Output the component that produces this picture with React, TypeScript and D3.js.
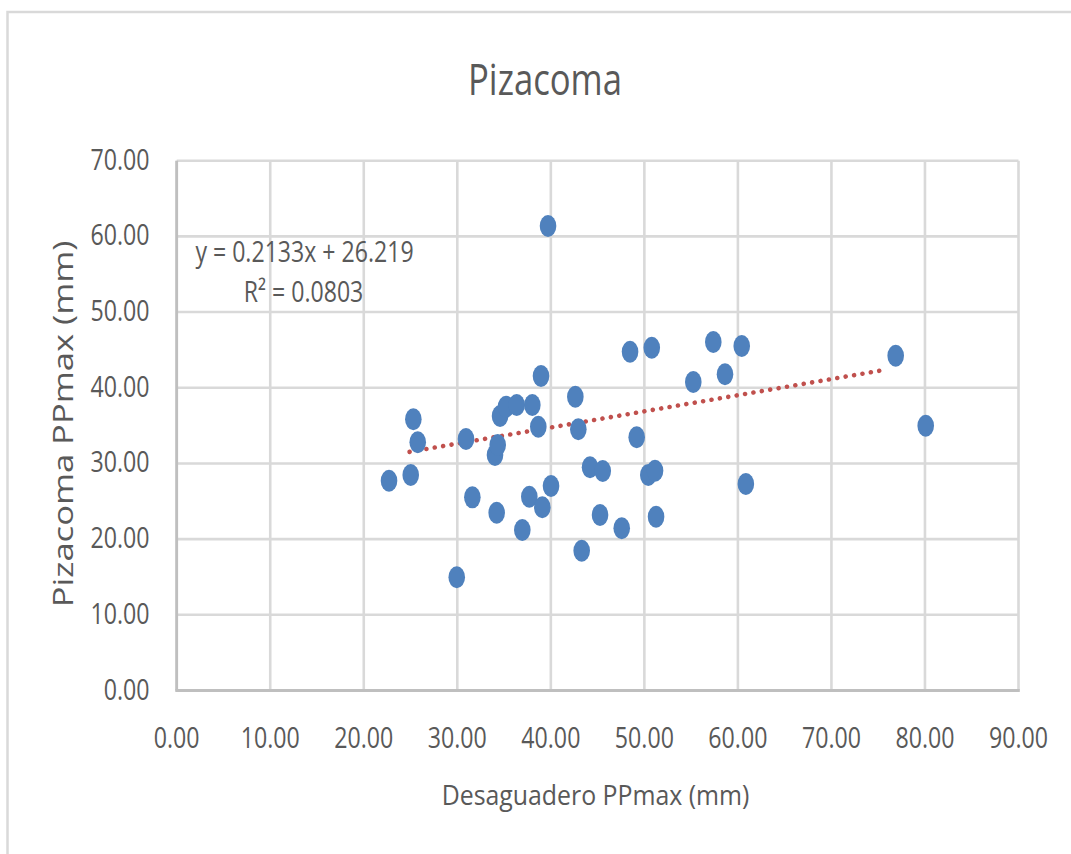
import React from "react";
import * as d3 from "d3";

const desaguadero = [
  22.7, 25.02, 25.3, 25.77, 29.94, 30.93, 31.61, 34.21, 34.03, 34.32, 34.57,
  35.21, 36.35, 38.02, 38.66, 38.95, 36.95, 37.7, 39.09, 40.02, 39.7, 42.62,
  42.94, 43.3, 44.19, 45.55, 45.26, 47.58, 48.47, 49.18, 50.42, 51.14, 50.79,
  51.25, 55.23, 57.37, 58.62, 60.41, 60.85, 76.87, 80.08,
];
const pizacoma = [
  27.72, 28.47, 35.83, 32.79, 14.96, 33.23, 25.52, 23.49, 31.11, 32.43, 36.27,
  37.49, 37.72, 37.72, 34.85, 41.55, 21.21, 25.6, 24.2, 27.02, 61.37, 38.82,
  34.51, 18.47, 29.49, 29.0, 23.19, 21.43, 44.76, 33.45, 28.47, 29.04, 45.29,
  22.96, 40.76, 46.04, 41.78, 45.51, 27.28, 44.23, 34.98,
];
const xTicks = [0, 10, 20, 30, 40, 50, 60, 70, 80, 90];
const yTicks = [0, 10, 20, 30, 40, 50, 60, 70];
const slope = 0.2133;
const intercept = 26.219;
const trendRange = [24.9, 76.0];
const title = "Pizacoma";
const xTitle = "Desaguadero PPmax (mm)";
const yTitle = "Pizacoma PPmax (mm)";
const eqLine1 = "y = 0.2133x + 26.219";
const eqLine2 = "R\u00b2 = 0.0803";

const FONT = "'Open Sans', 'Noto Sans', sans-serif";
const TXT = "#595959";

export default function App() {
  const x = d3.scaleLinear().domain([0, 90]).range([176.7, 1018.5]);
  const y = d3.scaleLinear().domain([0, 70]).range([690.5, 160.7]);
  const fmt = d3.format(".2f");
  const pts = desaguadero.map((d, i) => [d, pizacoma[i]]);
  const trendData = trendRange.map((v) => [v, slope * v + intercept]);
  const line = d3
    .line<number[]>()
    .x((d) => x(d[0]))
    .y((d) => y(d[1]));

  return (
    <svg
      width={1071}
      height={854}
      style={{ position: "absolute", left: 0, top: 0, background: "#fff" }}
    >
      <rect x={0} y={0} width={1071} height={854} fill="#fff" />
      <rect
        x={7.5}
        y={12}
        width={1200}
        height={1000}
        fill="none"
        stroke="#d9d9d9"
        strokeWidth={2.5}
      />
      {/* gridlines */}
      {yTicks.map((t) => (
        <line
          key={"gy" + t}
          x1={x(0)}
          x2={x(90)}
          y1={y(t)}
          y2={y(t)}
          stroke="#d9d9d9"
          strokeWidth={2.6}
        />
      ))}
      {xTicks.map((t) => (
        <line
          key={"gx" + t}
          x1={x(t)}
          x2={x(t)}
          y1={y(0)}
          y2={y(70)}
          stroke="#d9d9d9"
          strokeWidth={2.6}
        />
      ))}
      {/* axes */}
      <line x1={x(0)} x2={x(0)} y1={y(0)} y2={y(70)} stroke="#bfbfbf" strokeWidth={2.8} />
      <line x1={x(0) - 1.4} x2={x(90) + 1.3} y1={y(0)} y2={y(0)} stroke="#bfbfbf" strokeWidth={3} />

      {/* tick labels */}
      {yTicks.map((t) => (
        <text
          key={"ly" + t}
          transform={`translate(149.5, ${y(t) + 9}) scale(0.966, 1.23)`}
          textAnchor="end"
          fontFamily={FONT}
          fontSize={24}
          fill={TXT}
        >
          {fmt(t)}
        </text>
      ))}
      {xTicks.map((t) => (
        <text
          key={"lx" + t}
          transform={`translate(${x(t)}, 748.3) scale(0.966, 1.23)`}
          textAnchor="middle"
          fontFamily={FONT}
          fontSize={24}
          fill={TXT}
        >
          {fmt(t)}
        </text>
      ))}

      {/* trend line */}
      <path
        d={line(trendData) || ""}
        fill="none"
        stroke="#c0504d"
        strokeWidth={4.6}
        strokeLinecap="round"
        strokeDasharray="0.01 8.5"
      />

      {/* points */}
      {pts.map((p, i) => (
        <ellipse
          key={"p" + i}
          cx={x(p[0])}
          cy={y(p[1])}
          rx={8.3}
          ry={11}
          fill="#4f81bd"
        />
      ))}

      {/* equation */}
      <text
        transform="translate(304.5, 262) scale(1.05, 1.3)"
        textAnchor="middle"
        fontFamily={FONT}
        fontSize={22}
        fill={TXT}
      >
        {eqLine1}
      </text>
      <text
        transform="translate(303.5, 302) scale(1.05, 1.3)"
        textAnchor="middle"
        fontFamily={FONT}
        fontSize={22}
        fill={TXT}
      >
        {eqLine2}
      </text>

      {/* title */}
      <text
        transform="translate(545, 95) scale(1.02, 1.3)"
        textAnchor="middle"
        fontFamily={FONT}
        fontSize={34}
        fill={TXT}
      >
        {title}
      </text>

      {/* axis titles */}
      <text
        transform="translate(595.5, 805) scale(1.035, 1.17)"
        textAnchor="middle"
        fontFamily={FONT}
        fontSize={24}
        fill={TXT}
      >
        {xTitle}
      </text>
      <text
        transform="translate(72.5, 424) rotate(-90) scale(1.33, 1.02)"
        textAnchor="middle"
        fontFamily={FONT}
        fontSize={26}
        fill={TXT}
      >
        {yTitle}
      </text>
    </svg>
  );
}
